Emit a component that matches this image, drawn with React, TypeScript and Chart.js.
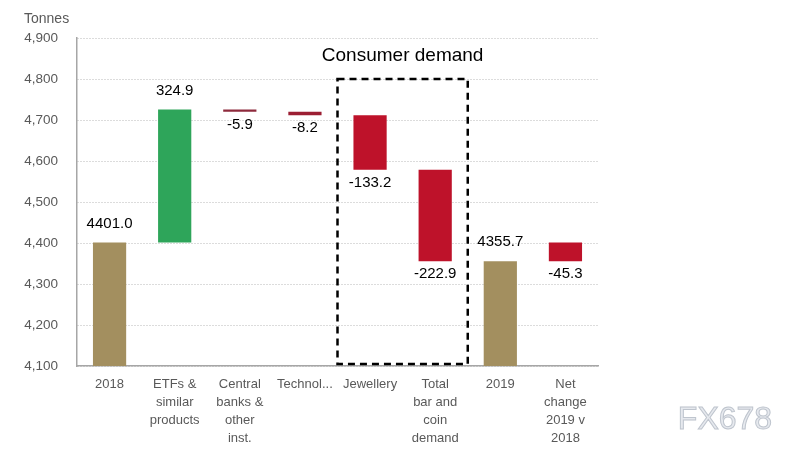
import React, { useEffect, useRef } from "react";
import { Chart, registerables } from "chart.js";

Chart.register(...registerables);

const categories: string[][] = [
  ["2018"],
  ["ETFs &", "similar", "products"],
  ["Central", "banks &", "other", "inst."],
  ["Technol..."],
  ["Jewellery"],
  ["Total", "bar and", "coin", "demand"],
  ["2019"],
  ["Net", "change", "2019 v", "2018"],
];
const barStarts = [4100, 4401.0, 4725.9, 4720.0, 4711.8, 4578.6, 4100, 4401.0];
const barEnds = [4401.0, 4725.9, 4720.0, 4711.8, 4578.6, 4355.7, 4355.7, 4355.7];
const valueLabels = ["4401.0", "324.9", "-5.9", "-8.2", "-133.2", "-222.9", "4355.7", "-45.3"];
const barColors = ["#A38F5F", "#2EA55A", "#8E2A3C", "#9C1E33", "#BE122A", "#BE122A", "#A38F5F", "#BE122A"];
const yMin = 4100;
const yMax = 4900;
const yStep = 100;
const boxTitle = "Consumer demand";
const boxFirstIdx = 4;
const boxLastIdx = 5;
const boxTop = 4800;
const boxBottom = 4105;

const FONT = "Arial, 'Liberation Sans', sans-serif";

const overlayPlugin = {
  id: "overlay",
  afterDatasetsDraw(chart: any) {
    const ctx = chart.ctx;
    const meta = chart.getDatasetMeta(0);
    const y = chart.scales.y;
    const x = chart.scales.x;
    ctx.save();
    // value labels
    ctx.font = `15px ${FONT}`;
    ctx.fillStyle = "#000";
    ctx.textAlign = "center";
    ctx.textBaseline = "middle";
    meta.data.forEach((bar: any, i: number) => {
      const s = barStarts[i];
      const e = barEnds[i];
      if (e >= s) {
        ctx.fillText(valueLabels[i], bar.x, y.getPixelForValue(Math.max(s, e)) - 19);
      } else {
        ctx.fillText(valueLabels[i], bar.x, y.getPixelForValue(Math.min(s, e)) + 13);
      }
    });
    // dashed box
    const half = (x.getPixelForValue(1) - x.getPixelForValue(0)) / 2;
    const left = x.getPixelForValue(boxFirstIdx) - half;
    const right = x.getPixelForValue(boxLastIdx) + half;
    const top = y.getPixelForValue(boxTop);
    const bottom = y.getPixelForValue(boxBottom);
    ctx.strokeStyle = "#000";
    ctx.lineWidth = 2.5;
    ctx.setLineDash([7, 5]);
    ctx.strokeRect(left, top, right - left, bottom - top);
    ctx.setLineDash([]);
    ctx.font = `19px ${FONT}`;
    ctx.fillText(boxTitle, (left + right) / 2, 56);
    // unit title
    ctx.font = `14px ${FONT}`;
    ctx.fillStyle = "#595959";
    ctx.textAlign = "left";
    ctx.fillText("Tonnes", 24, 19);
    // watermark
    ctx.font = `32px ${FONT}`;
    ctx.textAlign = "center";
    ctx.fillStyle = "#e6e9ee";
    ctx.strokeStyle = "#bfc5ce";
    ctx.lineWidth = 1;
    ctx.fillText("FX678", 725, 420);
    ctx.strokeText("FX678", 725, 420);
    ctx.restore();
  },
};

export default function App() {
  const ref = useRef<HTMLCanvasElement>(null);
  useEffect(() => {
    if (!ref.current) return;
    const chart = new Chart(ref.current, {
      type: "bar",
      data: {
        labels: categories,
        datasets: [
          {
            data: barStarts.map((s, i) => [s, barEnds[i]]) as any,
            backgroundColor: barColors,
            borderWidth: 0,
            borderSkipped: false,
            categoryPercentage: 1,
            barPercentage: 0.51,
          },
        ],
      },
      options: {
        responsive: false,
        animation: false,
        layout: { padding: { left: 0, right: 207, top: 38, bottom: 0 } },
        plugins: { legend: { display: false }, tooltip: { enabled: false } },
        scales: {
          x: {
            grid: { display: false, drawTicks: false },
            border: { display: true, color: "#a6a6a6", width: 1.5 },
            ticks: {
              color: "#595959",
              font: { size: 13, family: FONT, lineHeight: 1.4 },
              padding: 9,
              maxRotation: 0,
              autoSkip: false,
            },
            afterFit(scale: any) {
              scale.height = 90;
            },
          },
          y: {
            min: yMin,
            max: yMax,
            grid: { color: "#b8b8b8", drawTicks: false, lineWidth: 1 },
            border: { display: true, color: "#a6a6a6", width: 1.5, dash: [1, 2] },
            ticks: {
              stepSize: yStep,
              color: "#595959",
              font: { size: 13.5, family: FONT },
              padding: 19,
              callback: (v: any) => Number(v).toLocaleString("en-US"),
            },
            afterFit(scale: any) {
              scale.width = 77;
            },
          },
        },
      },
      plugins: [overlayPlugin],
    } as any);
    return () => chart.destroy();
  }, []);
  return (
    <div style={{ position: "fixed", left: 0, top: 0, width: 805, height: 456, background: "#fff" }}>
      <canvas ref={ref} width={805} height={456} />
    </div>
  );
}
